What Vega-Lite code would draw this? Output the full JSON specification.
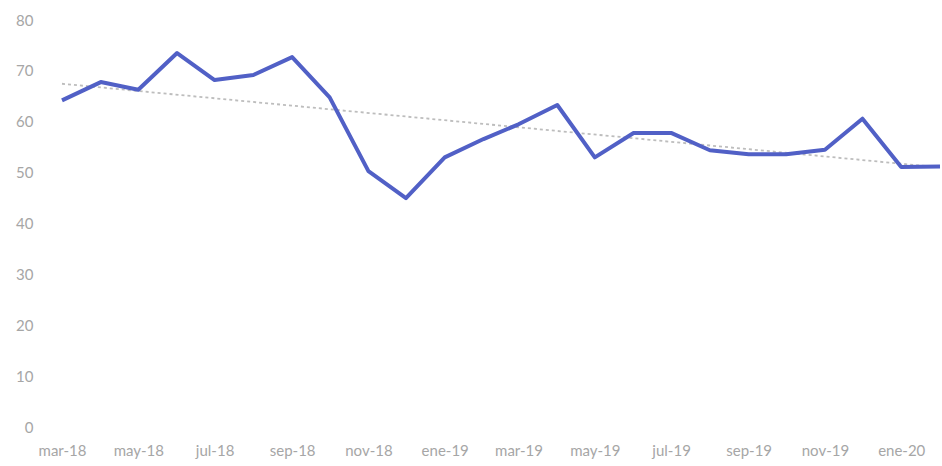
{
  "$schema": "https://vega.github.io/schema/vega-lite/v6.json",
  "autosize": "none",
  "width": 878,
  "height": 407,
  "padding": {"left": 62, "top": 20, "right": 2, "bottom": 39},
  "background": "white",
  "config": {"view": {"stroke": null}, "font": "Lato"},
  "data": {"values": [
    {"date": "2018-03-01", "value": 64.2},
    {"date": "2018-04-01", "value": 67.8},
    {"date": "2018-05-01", "value": 66.3},
    {"date": "2018-06-01", "value": 73.5},
    {"date": "2018-07-01", "value": 68.2},
    {"date": "2018-08-01", "value": 69.2},
    {"date": "2018-09-01", "value": 72.7},
    {"date": "2018-10-01", "value": 64.8},
    {"date": "2018-11-01", "value": 50.3},
    {"date": "2018-12-01", "value": 45.0},
    {"date": "2019-01-01", "value": 53.0},
    {"date": "2019-02-01", "value": 56.6},
    {"date": "2019-03-01", "value": 59.5},
    {"date": "2019-04-01", "value": 63.3},
    {"date": "2019-05-01", "value": 53.0},
    {"date": "2019-06-01", "value": 57.8},
    {"date": "2019-07-01", "value": 57.8},
    {"date": "2019-08-01", "value": 54.4},
    {"date": "2019-09-01", "value": 53.6},
    {"date": "2019-10-01", "value": 53.6},
    {"date": "2019-11-01", "value": 54.5},
    {"date": "2019-12-01", "value": 60.6},
    {"date": "2020-01-01", "value": 51.1},
    {"date": "2020-02-01", "value": 51.2}
  ]},
  "encoding": {
    "x": {
      "field": "date", "type": "temporal",
      "scale": {"type": "utc", "nice": false},
      "axis": {
        "title": null, "grid": false, "domain": false, "ticks": false,
        "tickCount": {"interval": "month", "step": 2},
        "labelExpr": "['ene','feb','mar','abr','may','jun','jul','ago','sep','oct','nov','dic'][utcmonth(datum.value)] + '-' + utcFormat(datum.value, '%y')",
        "labelColor": "#a6a6a6", "labelFontSize": 15, "labelPadding": 16,
        "labelOverlap": false, "labelFlush": false
      }
    },
    "y": {
      "field": "value", "type": "quantitative",
      "scale": {"domain": [0, 80], "nice": false},
      "axis": {
        "title": null, "grid": false, "domain": false, "ticks": false,
        "values": [0, 10, 20, 30, 40, 50, 60, 70, 80],
        "labelColor": "#a6a6a6", "labelFontSize": 15, "labelPadding": 29
      }
    }
  },
  "layer": [
    {
      "mark": {"type": "line", "color": "#bdbdbd", "strokeWidth": 1.8, "strokeDash": [3, 3]},
      "transform": [{"regression": "value", "on": "date"}]
    },
    {
      "mark": {"type": "line", "color": "#5160c6", "strokeWidth": 4, "strokeJoin": "round"}
    }
  ]
}
